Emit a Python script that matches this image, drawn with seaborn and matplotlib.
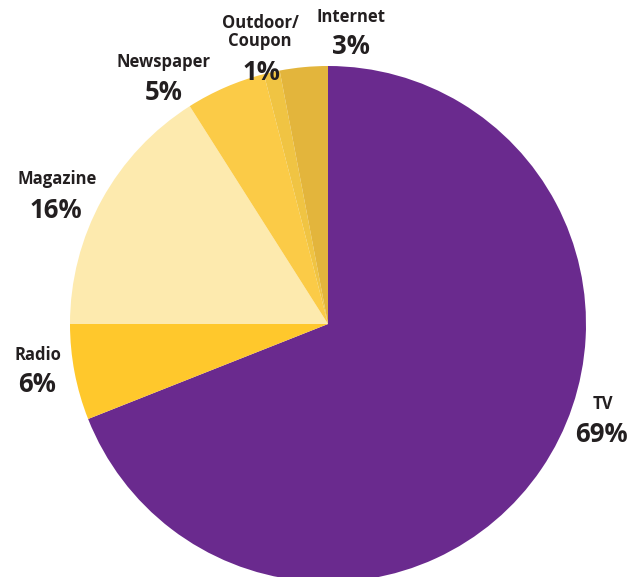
import matplotlib
matplotlib.use("Agg")
import matplotlib.pyplot as plt
import seaborn as sns

categories = ["TV", "Radio", "Magazine", "Newspaper", "Outdoor/\nCoupon", "Internet"]
values = [69, 6, 16, 5, 1, 3]
pct_labels = ["69%", "6%", "16%", "5%", "1%", "3%"]
colors = ["#6A2A8E", "#FFC82C", "#FDEAAE", "#FBCB47", "#F0C443", "#E3B53C"]

sns.set_theme(style="white")
plt.rcParams['font.family'] = ['Open Sans', 'DejaVu Sans']

W, H = 631, 577
fig = plt.figure(figsize=(W / 100, H / 100), dpi=100)
ax = fig.add_axes([0, 0, 1, 1])
ax.set_xlim(0, W)
ax.set_ylim(0, H)
ax.set_aspect("equal")
ax.axis("off")

ax.pie(values, colors=colors, startangle=90, counterclock=False,
       center=(328, H - 324), radius=258, frame=True,
       wedgeprops=dict(linewidth=0))
ax.set_xlim(0, W)
ax.set_ylim(0, H)
ax.axis("off")

# label positions (pixel coords, top-left origin): name center, pct center
name_pos = [(603, 404), (38, 355), (57, 179), (163, 62), (260, 32), (351, 17)]
pct_pos = [(601, 434), (37, 384), (56, 211), (164, 92), (261, 73), (351, 47)]
txt = "#231F20"
for cat, pl, (nx, ny), (px, py) in zip(categories, pct_labels, name_pos, pct_pos):
    ax.text(nx, H - ny, cat, ha="center", va="center", fontsize=12,
            fontweight="bold", color=txt, linespacing=0.95)
    ax.text(px, H - py, pl, ha="center", va="center", fontsize=18.5,
            fontweight="bold", color=txt)

fig.savefig("out.png", dpi=100)
